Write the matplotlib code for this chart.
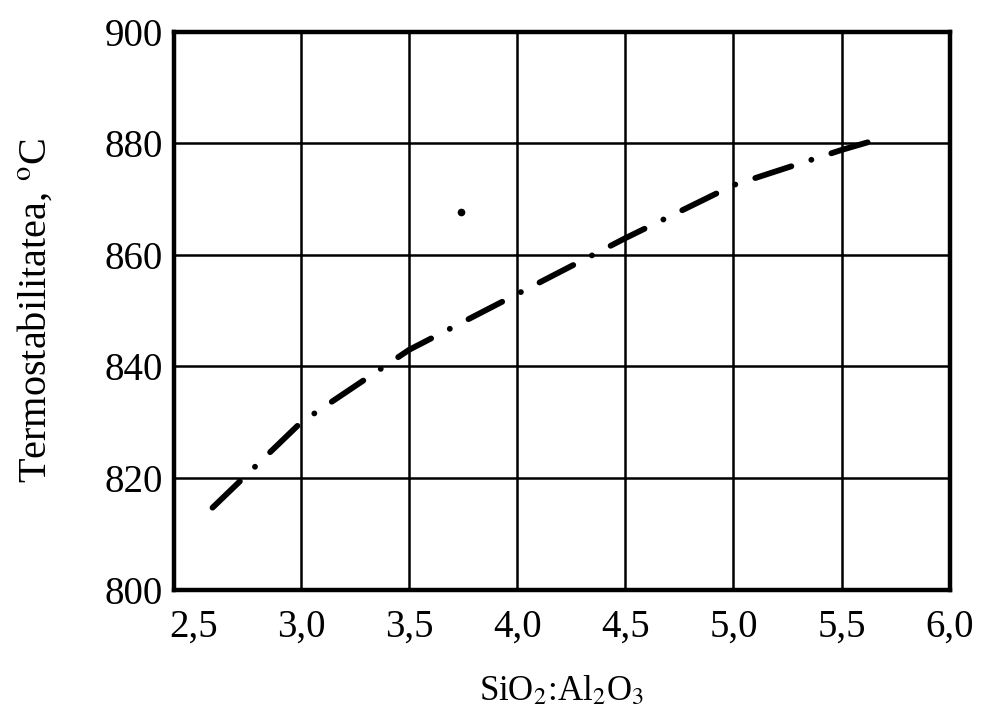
import matplotlib.pyplot as plt

# curve
x_curve = [2.59, 3.0, 3.5, 4.0, 4.5, 5.0, 5.5, 5.65]
y_curve = [814.7, 830.0, 843.0, 853.0, 863.0, 872.5, 878.8, 880.5]

# lone point
x_pt = [3.74]
y_pt = [867.7]

x_ticks = [2.5, 3.0, 3.5, 4.0, 4.5, 5.0, 5.5, 6.0]
x_labels = ['2,5', '3,0', '3,5', '4,0', '4,5', '5,0', '5,5', '6,0']
y_ticks = [800, 820, 840, 860, 880, 900]


def plot_graph():
    plt.rcParams['font.family'] = ['Liberation Serif', 'DejaVu Serif']
    plt.rcParams['mathtext.fontset'] = 'stix'

    fig = plt.figure(figsize=(9.81, 7.2), dpi=100)
    ax = fig.add_axes([0.177, 0.181, 0.791, 0.775])

    # grid drawn by hand, no line at 2,5 in the original
    for xv in x_ticks[1:-1]:
        ax.axvline(xv, color='black', linewidth=1.8, zorder=0)
    for yv in y_ticks[1:-1]:
        ax.axhline(yv, color='black', linewidth=1.8, zorder=0)

    ax.plot(x_curve, y_curve, color='black', linewidth=4.2,
            dashes=(6.5, 3.6, 0.01, 3.6), dash_capstyle='round')
    ax.plot(x_pt, y_pt, 'o', color='black', markersize=4.5)

    ax.set_xlim(2.41, 6.0)
    ax.set_ylim(800, 900)
    ax.set_xticks(x_ticks)
    ax.set_xticklabels(x_labels)
    ax.set_yticks(y_ticks)
    ax.tick_params(length=0, labelsize=28)
    ax.tick_params(axis='x', pad=14)
    ax.tick_params(axis='y', pad=8)

    for s in ax.spines.values():
        s.set_linewidth(3.2)

    ax.set_xlabel('SiO$_2$:Al$_2$O$_3$', fontsize=25, labelpad=20)
    ax.set_ylabel('Termostabilitatea, $^\\mathrm{o}$C', fontsize=29, labelpad=36)

    fig.savefig('out.png', dpi=100)


if __name__ == "__main__":
    plot_graph()
